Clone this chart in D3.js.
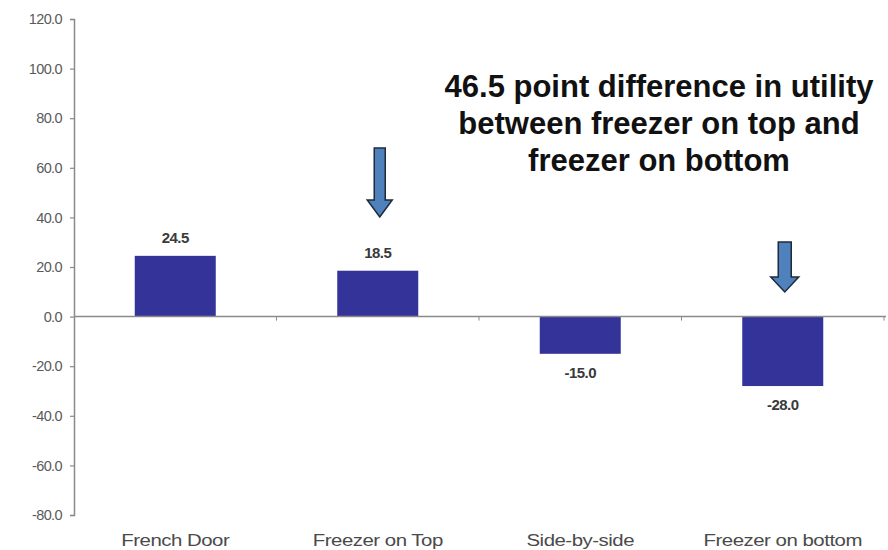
<!DOCTYPE html>
<html><head><meta charset="utf-8">
<script src="https://cdn.jsdelivr.net/npm/d3@7"></script>
<style>body{margin:0;background:#fff}</style>
</head><body>
<svg id="chart" width="888" height="550"></svg>
<script>
const categories = ["French Door", "Freezer on Top", "Side-by-side", "Freezer on bottom"];
const values = [24.5, 18.5, -15.0, -28.0];
const yTicks = [120, 100, 80, 60, 40, 20, 0, -20, -40, -60, -80];
const annotationLines = ["46.5 point difference in utility", "between freezer on top and", "freezer on bottom"];
const arrowCategories = ["Freezer on Top", "Freezer on bottom"];

const svg = d3.select("#chart");
const x = d3.scaleBand().domain(categories).range([74, 884]).paddingInner(0.6).paddingOuter(0.3);
const y = d3.scaleLinear().domain([-80, 120]).range([515, 19]);
const font = "'Liberation Sans', Arial, sans-serif";
const fmt = d => d.toFixed(1);

// bars
svg.selectAll("rect.bar").data(values).join("rect")
  .attr("x", (d, i) => x(categories[i]))
  .attr("width", x.bandwidth())
  .attr("y", d => y(Math.max(0, d)))
  .attr("height", d => Math.abs(y(d) - y(0)))
  .attr("fill", "#333399");

// y axis
const yAxis = d3.axisLeft(y).tickValues(yTicks).tickFormat(fmt).tickSize(4).tickPadding(8);
const gy = svg.append("g").attr("transform", "translate(74,0)").call(yAxis);
gy.select(".domain").attr("stroke", "#8a8a8a").attr("stroke-width", 1.5);
gy.selectAll(".tick line").attr("stroke", "#8a8a8a").attr("stroke-width", 1.2);
gy.selectAll(".tick text").attr("fill", "#5a5a5a").attr("font-family", font).attr("font-size", 14.5).attr("letter-spacing", -0.6);

// zero line with category tick marks
svg.append("line").attr("x1", 74).attr("x2", 886).attr("y1", y(0)).attr("y2", y(0))
  .attr("stroke", "#8a8a8a").attr("stroke-width", 1.5);
const step = x.step();
svg.selectAll("line.ctick").data(categories).join("line")
  .attr("x1", (d) => x(d) + x.bandwidth() / 2 + step / 2)
  .attr("x2", (d) => x(d) + x.bandwidth() / 2 + step / 2)
  .attr("y1", y(0)).attr("y2", y(0) + 4)
  .attr("stroke", "#8a8a8a").attr("stroke-width", 1);

// category labels (horizontally stretched like the reference)
svg.selectAll("text.cat").data(categories).join("text")
  .attr("transform", d => `translate(${x(d) + x.bandwidth() / 2},545.5) scale(1.2,1)`)
  .attr("text-anchor", "middle")
  .attr("font-family", font).attr("font-size", 17).attr("fill", "#4a4a4a")
  .attr("letter-spacing", -0.4)
  .text(d => d);

// value labels
svg.selectAll("text.val").data(values).join("text")
  .attr("x", (d, i) => x(categories[i]) + x.bandwidth() / 2)
  .attr("y", d => d >= 0 ? y(d) - 13 : y(d) + 24)
  .attr("text-anchor", "middle")
  .attr("font-family", font).attr("font-size", 15).attr("font-weight", "bold").attr("fill", "#3a3a3a")
  .attr("letter-spacing", -0.5)
  .text(d => fmt(d));

// arrows
const arrowSpecs = [
  {cat: arrowCategories[0], top: 148, headStart: 200, tip: 217, shaftW: 11, headW: 25},
  {cat: arrowCategories[1], top: 242, headStart: 277, tip: 292, shaftW: 13, headW: 28}
];
arrowSpecs.forEach(a => {
  const cx = x(a.cat) + x.bandwidth() / 2 + 2;
  const p = [
    [cx - a.shaftW / 2, a.top], [cx + a.shaftW / 2, a.top], [cx + a.shaftW / 2, a.headStart],
    [cx + a.headW / 2, a.headStart], [cx, a.tip], [cx - a.headW / 2, a.headStart],
    [cx - a.shaftW / 2, a.headStart]
  ];
  svg.append("path").attr("d", "M" + p.map(q => q.join(",")).join("L") + "Z")
    .attr("fill", "#4f81bd").attr("stroke", "#1f2a3a").attr("stroke-width", 1.5);
});

// annotation
svg.append("text").attr("x", 659).attr("y", 97)
  .attr("text-anchor", "middle").attr("font-family", font).attr("font-size", 31).attr("font-weight", "bold").attr("fill", "#111")
  .selectAll("tspan").data(annotationLines).join("tspan")
  .attr("x", 659).attr("dy", (d, i) => i === 0 ? 0 : 37)
  .text(d => d);
</script>
</body></html>
